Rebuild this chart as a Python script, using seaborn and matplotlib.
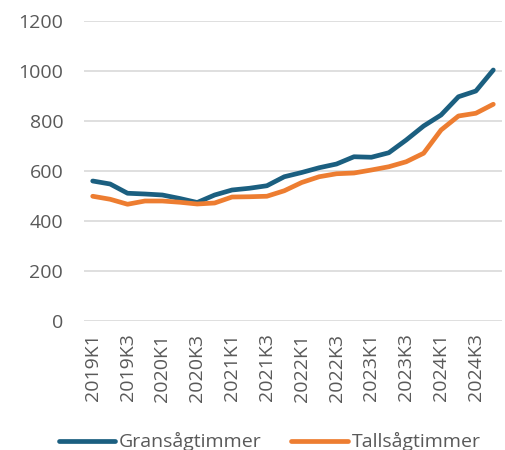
import matplotlib
matplotlib.use("Agg")
import matplotlib.pyplot as plt
import seaborn as sns
import pandas as pd

quarters = [f"{y}K{q}" for y in range(2019, 2025) for q in range(1, 5)]
gran = [560, 548, 511, 508, 504, 490, 474, 504, 524, 531, 541, 577,
        594, 613, 628, 657, 655, 673, 724, 780, 824, 897, 920, 1004]
tall = [499, 487, 467, 480, 480, 475, 468, 472, 496, 497, 499, 521,
        554, 577, 589, 592, 604, 617, 637, 671, 764, 820, 831, 867]
series_names = ["Gransågtimmer", "Tallsågtimmer"]
colors = ["#1b5f80", "#ed7d31"]
yticks = [0, 200, 400, 600, 800, 1000, 1200]

df = pd.DataFrame({"Kvartal": quarters * 2,
                   "Värde": gran + tall,
                   "Serie": [series_names[0]] * len(quarters) + [series_names[1]] * len(quarters)})
df["pos"] = list(range(len(quarters))) * 2

sns.set_theme(style="white")
plt.rcParams['font.family'] = ['Open Sans', 'DejaVu Sans']

fig = plt.figure(figsize=(5.06, 4.5), dpi=100)
ax = fig.add_axes([84/506, 1 - 321/450, 418/506, 300/450])

sns.lineplot(data=df, x="pos", y="Värde", hue="Serie", palette=colors,
             linewidth=3.4, ax=ax, legend=False, solid_capstyle="round")

fs = 14
ax.set_xlim(-0.5, len(quarters) - 0.5)
ax.set_ylim(0, 1200)
ax.set_yticks(yticks)
ax.set_yticklabels([str(v) for v in yticks], fontsize=fs, color="#595959")
ax.set_xticks(range(0, len(quarters), 2))
ax.set_xticklabels(quarters[::2], rotation=90, fontsize=fs, color="#595959")
ax.tick_params(axis="x", length=0, pad=9)
ax.tick_params(axis="y", length=0, pad=15)
ax.grid(axis="y", color="#d9d9d9", linewidth=1.2)
ax.grid(axis="x", visible=False)
for s in ax.spines.values():
    s.set_visible(False)
ax.set_xlabel("")
ax.set_ylabel("")

from matplotlib.lines import Line2D
handles = [Line2D([0], [0], color=c, linewidth=3.4, solid_capstyle="round") for c in colors]
fig.legend(handles, series_names, loc="lower center", bbox_to_anchor=(0.533, -0.042),
           ncol=2, frameon=False, fontsize=fs, handlelength=2.9, handletextpad=0.2,
           columnspacing=1.5, labelcolor="#595959")

fig.savefig("out.png", dpi=100)
